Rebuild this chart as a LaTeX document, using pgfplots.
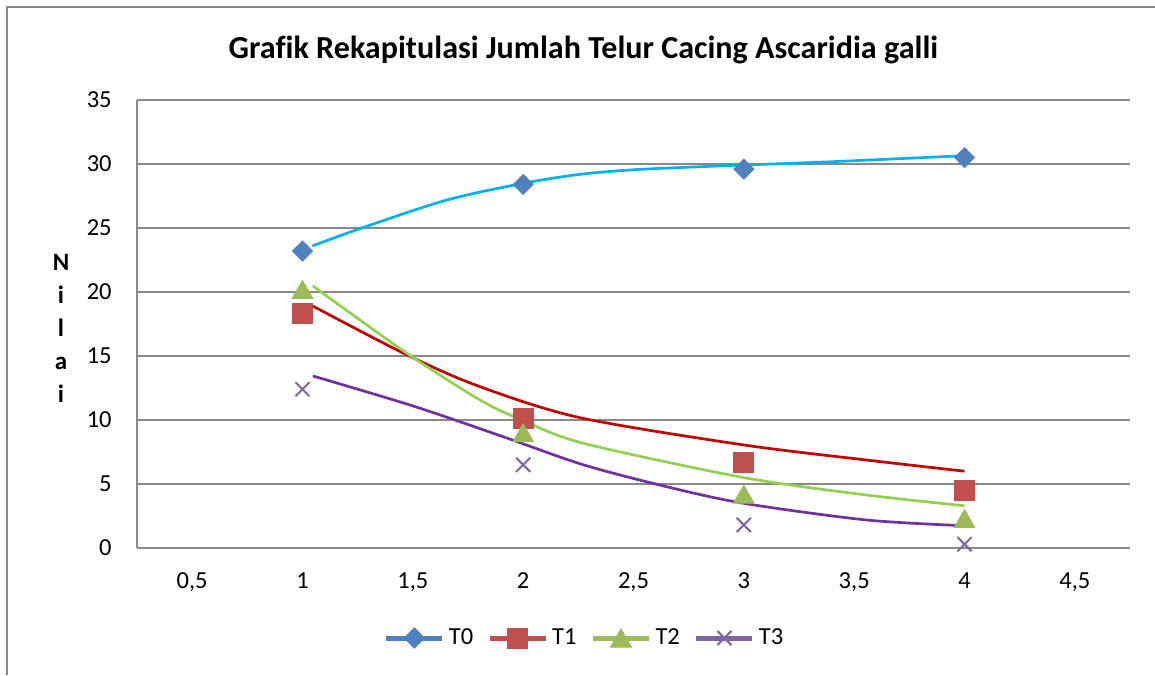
\documentclass[border=0pt]{standalone}
\usepackage{fontspec}
\setmainfont[Ligatures=NoCommon]{Carlito}
\usepackage{pgfplots}
\pgfplotsset{compat=1.18}
\definecolor{m0}{HTML}{4F81BD}
\definecolor{m1}{HTML}{C0504D}
\definecolor{m2}{HTML}{9BBB59}
\definecolor{m3}{HTML}{8064A2}
\definecolor{t0}{HTML}{00B0F0}
\definecolor{t1}{HTML}{C00000}
\definecolor{t2}{HTML}{92D050}
\definecolor{t3}{HTML}{7030A0}
\definecolor{gridc}{HTML}{898989}
\begin{document}
\begin{tikzpicture}
\useasboundingbox (0,0) rectangle (577.5pt,337.5pt);
\draw[color=gridc, line width=1pt] (3.5pt,0pt) -- (3.5pt,334pt) -- (577.5pt,334pt);
\node[font=\bfseries\fontsize{16.05}{19}\selectfont, anchor=base] at (291.7pt,308pt) {Grafik Rekapitulasi Jumlah Telur Cacing Ascaridia galli};
\node[font=\bfseries\fontsize{12.5}{16.5}\selectfont, align=center] at (30.5pt,173.5pt) {N\\i\\l\\a\\i};
\begin{axis}[
  at={(68.5pt,63.5pt)}, anchor=south west,
  scale only axis, width=496.5pt, height=224pt,
  xmin=0.25, xmax=4.75, ymin=0, ymax=35,
  xtick={0.5,1,1.5,2,2.5,3,3.5,4,4.5},
  ytick={0,5,10,15,20,25,30,35},
  axis x line*=bottom, axis y line*=left,
  ymajorgrids,
  major grid style={gridc, line width=1pt},
  axis line style={gridc, line width=1pt},
  major tick length=0pt, tick style={draw=none},
  ticklabel style={font=\fontsize{12.25}{14}\selectfont},
  /pgf/number format/assume math mode=true,
  /pgf/number format/use comma,
  yticklabel style={anchor=east, inner sep=0pt, xshift=-12.5pt},
  xticklabel style={anchor=north, inner sep=0pt, yshift=-12pt},
  legend style={at={(0.4517,-0.2009)}, anchor=center, draw=none,
    font=\fontsize{12.25}{14}\selectfont,
    /tikz/every even column/.append style={column sep=5pt}},
  legend columns=4,
  legend image code/.code={\draw[mark repeat=2,mark phase=2,#1] plot coordinates {(0pt,0pt) (14pt,0pt) (28pt,0pt)};},
  clip=false
]
% data markers
\addplot[only marks, mark=square*, mark size=3.54pt, mark options={rotate=45, fill=m0, draw=m0}, forget plot]
  coordinates {(1,23.2) (2,28.4) (3,29.6) (4,30.5)};
\addplot[only marks, mark=square*, mark size=5pt, mark options={fill=m1, draw=m1}, forget plot]
  coordinates {(1,18.3) (2,10.1) (3,6.7) (4,4.5)};
\addplot[only marks, mark=triangle*, mark size=6pt, mark options={fill=m2, draw=m2, yshift=-1.5pt}, forget plot]
  coordinates {(1,20.2) (2,9.0) (3,4.2) (4,2.3)};
\addplot[only marks, mark=x, mark size=5pt, mark options={draw=m3, line width=1pt}, forget plot]
  coordinates {(1,12.4) (2,6.5) (3,1.8) (4,0.3)};
% trend lines
\addplot[t0, line width=1.35pt, smooth, forget plot] coordinates {
  (1.045,23.6) (1.277,25.05) (1.655,27.19) (2.0,28.49) (2.26,29.2) (2.5,29.55) (2.75,29.75) (3.0,29.92) (3.4,30.18) (4.0,30.65)};
\addplot[t1, line width=1.35pt, smooth, forget plot] coordinates {
  (1.047,18.9) (1.474,15.08) (1.805,12.6) (2.258,10.18) (3.0,8.05) (3.555,6.875) (4.0,6.0)};
\addplot[t2, line width=1.35pt, smooth, forget plot] coordinates {
  (1.047,20.47) (1.474,15.2) (1.805,11.56) (2.0,9.95) (2.273,8.18) (3.0,5.5) (3.555,4.14) (4.0,3.3)};
\addplot[t3, line width=1.35pt, smooth, forget plot] coordinates {
  (1.047,13.44) (1.5,11.1) (1.9,8.75) (2.273,6.5) (2.65,4.79) (3.0,3.49) (3.555,2.19) (4.0,1.74)};
% legend
\addlegendimage{m0, line width=2.5pt, mark=square*, mark size=3.54pt, mark options={rotate=45, fill=m0, draw=m0, line width=0.5pt}}
\addlegendentry{T0}
\addlegendimage{m1, line width=2.5pt, mark=square*, mark size=5pt, mark options={fill=m1, draw=m1, line width=0.5pt}}
\addlegendentry{T1}
\addlegendimage{m2, line width=2.5pt, mark=triangle*, mark size=6pt, mark options={fill=m2, draw=m2, line width=0.5pt, yshift=-1.5pt}}
\addlegendentry{T2}
\addlegendimage{m3, line width=2.5pt, mark=x, mark size=5pt, mark options={draw=m3, line width=1pt}}
\addlegendentry{T3}
\end{axis}
\end{tikzpicture}
\end{document}
